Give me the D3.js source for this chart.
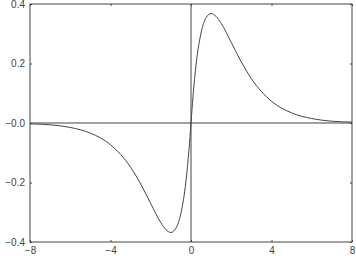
<html>
<head>
<meta charset="utf-8">
<style>
 body {margin:0; background:#fff}
 text {font-family: "Liberation Sans", Arial, sans-serif; font-size:10px; fill:#444}
</style>
</head>
<body>
<script src="https://d3js.org/d3.v7.min.js"></script>
<script>
// values
var xs = [-8,-7,-6,-5,-4,-3,-2.5,-2,-1.5,-1.25,-1,-0.75,-0.5,-0.25,-0.1,0,0.1,0.25,0.5,0.75,1,1.25,1.5,2,2.5,3,4,5,6,7,8];
var ys = [-0.003,-0.006,-0.015,-0.034,-0.073,-0.149,-0.205,-0.271,-0.335,-0.358,-0.368,-0.354,-0.303,-0.195,-0.090,0,0.090,0.195,0.303,0.354,0.368,0.358,0.335,0.271,0.205,0.149,0.073,0.034,0.015,0.006,0.003];
var xTicks = [-8,-4,0,4,8];
var yTicks = [-0.4,-0.2,0.0,0.2,0.4];

var W = 356, H = 270;
var svg = d3.select("body").append("svg").attr("width",W).attr("height",H);

var x = d3.scaleLinear().domain([-8,8]).range([30,352]);
var y = d3.scaleLinear().domain([-0.4,0.4]).range([242,4]);

var stroke = "#444";

// frame
svg.append("rect").attr("x",30).attr("y",4).attr("width",322).attr("height",238)
   .attr("fill","none").attr("stroke",stroke).attr("stroke-width",1);

// zero lines
svg.append("line").attr("x1",x(-8)).attr("x2",x(8)).attr("y1",y(0)).attr("y2",y(0))
   .attr("stroke",stroke);
svg.append("line").attr("x1",x(0)).attr("x2",x(0)).attr("y1",y(0.4)).attr("y2",y(-0.4))
   .attr("stroke",stroke);

// axes with small inward ticks
svg.append("g").attr("transform","translate(0,242)")
   .call(d3.axisBottom(x).tickValues(xTicks).tickSize(-2).tickPadding(5)
         .tickFormat(function(d){ return d<0 ? "\u2212"+(-d) : d; }))
   .call(function(g){ g.select(".domain").remove(); g.selectAll("line").attr("stroke",stroke); });
svg.append("g").attr("transform","translate(0,4)")
   .call(d3.axisTop(x).tickValues(xTicks).tickSize(-2).tickFormat(""))
   .call(function(g){ g.select(".domain").remove(); g.selectAll("line").attr("stroke",stroke); });
svg.append("g").attr("transform","translate(30,0)")
   .call(d3.axisLeft(y).tickValues(yTicks).tickSize(-2).tickPadding(5)
         .tickFormat(function(d){ var s = Math.abs(d).toFixed(1); return (d<=0 ? "\u2212" : "")+s; }))
   .call(function(g){ g.select(".domain").remove(); g.selectAll("line").attr("stroke",stroke); });
svg.append("g").attr("transform","translate(352,0)")
   .call(d3.axisRight(y).tickValues(yTicks).tickSize(-2).tickFormat(""))
   .call(function(g){ g.select(".domain").remove(); g.selectAll("line").attr("stroke",stroke); });
svg.selectAll(".tick text").style("font-family","\"Liberation Sans\", Arial, sans-serif").style("font-size","10px").attr("fill","#444");

// curve
var line = d3.line().x(function(d){ return x(d[0]); }).y(function(d){ return y(d[1]); })
   .curve(d3.curveMonotoneX);
svg.append("path").datum(d3.zip(xs,ys)).attr("d",line)
   .attr("fill","none").attr("stroke",stroke).attr("stroke-width",1);
</script>
</body>
</html>
